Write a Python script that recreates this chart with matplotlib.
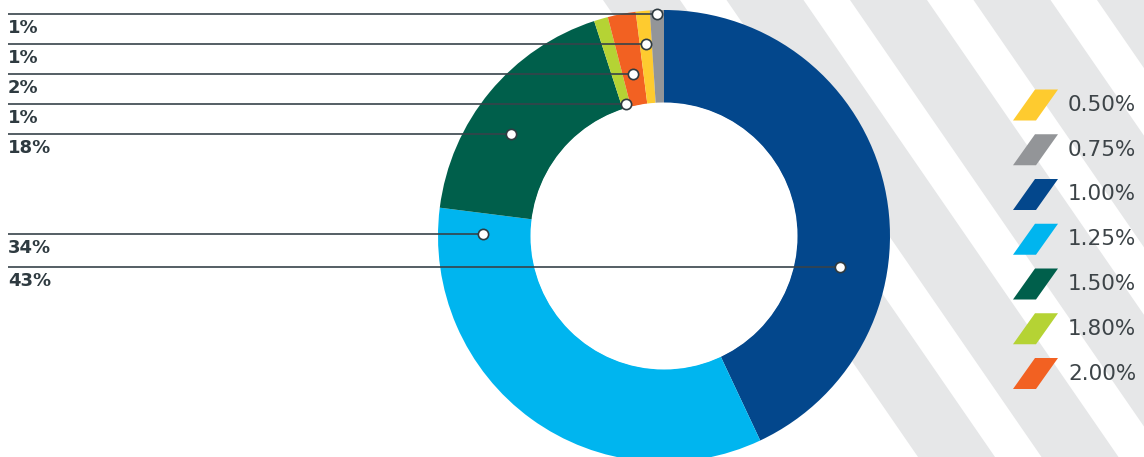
import numpy as np
import matplotlib
matplotlib.use('Agg')
import matplotlib.pyplot as plt
from matplotlib.patches import Polygon, Circle

# ---- data ----
categories = ['0.50%', '0.75%', '1.00%', '1.25%', '1.50%', '1.80%', '2.00%']
shares = [1, 1, 43, 34, 18, 1, 2]
share_labels = ['1%', '1%', '43%', '34%', '18%', '1%', '2%']
colors = ['#fecb2f', '#939598', '#03478c', '#00b5ef', '#005f4b', '#b5d334', '#f26122']
pie_order = [2, 3, 4, 5, 6, 0, 1]   # clockwise from 12 o'clock

# ---- layout (pixels) ----
W, H = 1144, 457
cx, cy = 664, H - 236
R_out, R_in = 226, 133
marker_frac = {2: 0.646, 3: 0.947, 4: 0.41, 5: 0.5, 6: 0.5, 0: 0.5, 1: 0.5}
marker_r = {2: 179, 3: 181, 4: 184, 5: 137, 6: 165, 0: 193, 1: 222}
text_dark = '#2e3a40'

fig = plt.figure(figsize=(W / 100, H / 100), dpi=100)
ax = fig.add_axes([0, 0, 1, 1])

# background diagonal stripes
for i in range(5):
    a = 603 + i * 123.5
    ax.add_patch(Polygon([(a, H), (a + 77, H), (a + 77 + 315, 0), (a + 315, 0)],
                         closed=True, facecolor='#e6e7e8', edgecolor='none', zorder=0))

vals = [shares[i] for i in pie_order]
cols = [colors[i] for i in pie_order]
ax.pie(vals, colors=cols, startangle=90, counterclock=False, radius=R_out,
       center=(cx, cy), wedgeprops=dict(width=R_out - R_in, linewidth=0),
       frame=True)
# white donut hole
ax.add_patch(Circle((cx, cy), R_in + 0.5, facecolor='white', edgecolor='none', zorder=1))

# leader lines + markers + labels
total = float(sum(shares))
cum = 0.0
for idx in pie_order:
    f = (cum + marker_frac[idx] * shares[idx]) / total
    th = np.deg2rad(90 - 360 * f)
    mx = cx + marker_r[idx] * np.cos(th)
    my = cy + marker_r[idx] * np.sin(th)
    ax.plot([8, mx], [my, my], color='#37434a', lw=1.2, zorder=4, solid_capstyle='butt')
    ax.plot(mx, my, 'o', ms=7.4, mfc='white', mec='#2f3b41', mew=1.2, zorder=5)
    ax.text(8, my - 5, share_labels[idx], ha='left', va='top', fontsize=13,
            fontweight='bold', color=text_dark, family='DejaVu Sans', zorder=6)
    cum += shares[idx]

# legend
for k, cat in enumerate(categories):
    yc = H - (105 + 44.75 * k)
    ax.add_patch(Polygon([(1013, yc - 15.5), (1036, yc - 15.5), (1058, yc + 15.5), (1035, yc + 15.5)],
                         closed=True, facecolor=colors[k], edgecolor='none', zorder=3))
    ax.text(1068, yc, cat, ha='left', va='center', fontsize=15.5, color='#3d4448',
            family='DejaVu Sans', fontweight='normal', zorder=6)

ax.set_xlim(0, W)
ax.set_ylim(0, H)
ax.set_aspect('equal')
ax.axis('off')

fig.savefig('out.png', dpi=100)
